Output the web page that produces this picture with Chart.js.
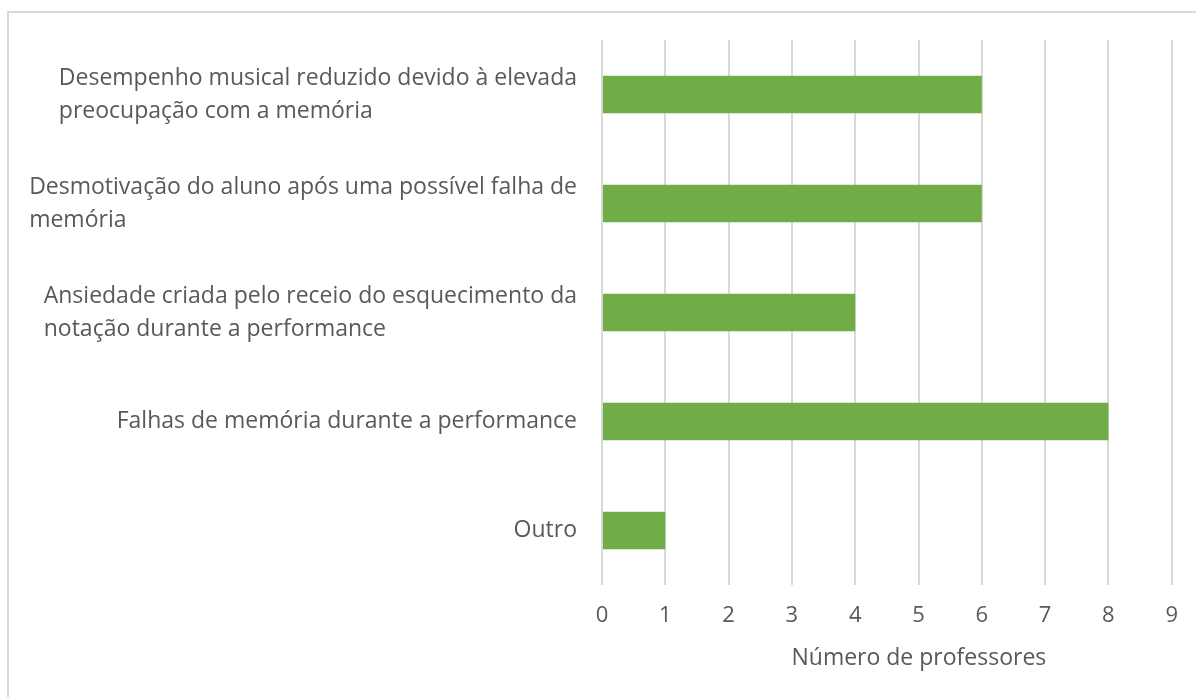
<!DOCTYPE html>
<html>
<head>
<meta charset="utf-8">
<script src="https://cdn.jsdelivr.net/npm/chart.js@4/dist/chart.umd.min.js"></script>
<style>
    html, body { margin: 0; padding: 0; background: #fff; }
    #frame {
        position: absolute;
        left: 7px; top: 11px;
        width: 1200px; height: 700px;
        border: 2px solid #d9d9d9;
        box-sizing: border-box;
    }
    #motivosChart { position: absolute; left: 0; top: 0; }
</style>
</head>
<body>
<div id="frame"></div>
<canvas id="motivosChart" width="1196" height="697"></canvas>
<script>
// categorias (cada linha de um rótulo é um item do array)
const categorias = [
    ['Desempenho musical reduzido devido à elevada', 'preocupação com a memória'],
    ['Desmotivação do aluno após uma possível falha de', 'memória'],
    ['Ansiedade criada pelo receio do esquecimento da', 'notação durante a performance'],
    ['Falhas de memória durante a performance'],
    ['Outro']
];
const numeroProfessores = [6, 6, 4, 8, 1];
const eixoMin = 0;
const eixoMax = 9;
const tituloEixo = 'Número de professores';

const corTexto = '#595959';
const familia = "'Open Sans', sans-serif";
const tamanho = 23;

// rótulos do eixo y (bloco à direita, linhas à esquerda) e título do eixo x
const rotulosCategorias = {
    id: 'rotulosCategorias',
    afterDraw(chart) {
        const { ctx, chartArea } = chart;
        const yScale = chart.scales.y;
        const xScale = chart.scales.x;
        const alturaLinha = 33;
        ctx.save();
        ctx.font = `${tamanho}px ${familia}`;
        ctx.fillStyle = corTexto;
        ctx.textAlign = 'left';
        ctx.textBaseline = 'middle';
        categorias.forEach((linhas, i) => {
            const yc = yScale.getPixelForTick(i);
            const largura = Math.max(...linhas.map(l => ctx.measureText(l).width));
            const x0 = chartArea.left - 25 - largura;
            linhas.forEach((linha, j) => {
                ctx.fillText(linha, x0, yc + (j - (linhas.length - 1) / 2) * alturaLinha);
            });
        });

        ctx.textAlign = 'center';
        ctx.fillText(tituloEixo, (chartArea.left + chartArea.right) / 2 + 32, xScale.bottom - 15);
        ctx.restore();
    }
};

document.addEventListener('DOMContentLoaded', () => {
    const ctx = document.getElementById('motivosChart').getContext('2d');

    new Chart(ctx, {
        type: 'bar',
        data: {
            labels: categorias,
            datasets: [{
                data: numeroProfessores,
                backgroundColor: '#70ad47',
                borderWidth: 0,
                categoryPercentage: 1,
                barPercentage: 0.345
            }]
        },
        options: {
            indexAxis: 'y',
            responsive: false,
            animation: false,
            layout: { padding: { top: 40, right: 24, left: 0, bottom: 24 } },
            plugins: {
                legend: { display: false },
                tooltip: { enabled: false }
            },
            scales: {
                x: {
                    min: eixoMin,
                    max: eixoMax,
                    ticks: { stepSize: 1, color: corTexto, font: { family: familia, size: 22 }, padding: 18 },
                    grid: { color: '#d9d9d9', lineWidth: 2, drawTicks: false },
                    border: { display: false },
                    afterFit: (scale) => { scale.height = 88; }
                },
                y: {
                    ticks: { display: false },
                    grid: { display: false },
                    border: { display: false },
                    afterFit: (scale) => { scale.width = 602; }
                }
            }
        },
        plugins: [rotulosCategorias]
    });
});
</script>
</body>
</html>
